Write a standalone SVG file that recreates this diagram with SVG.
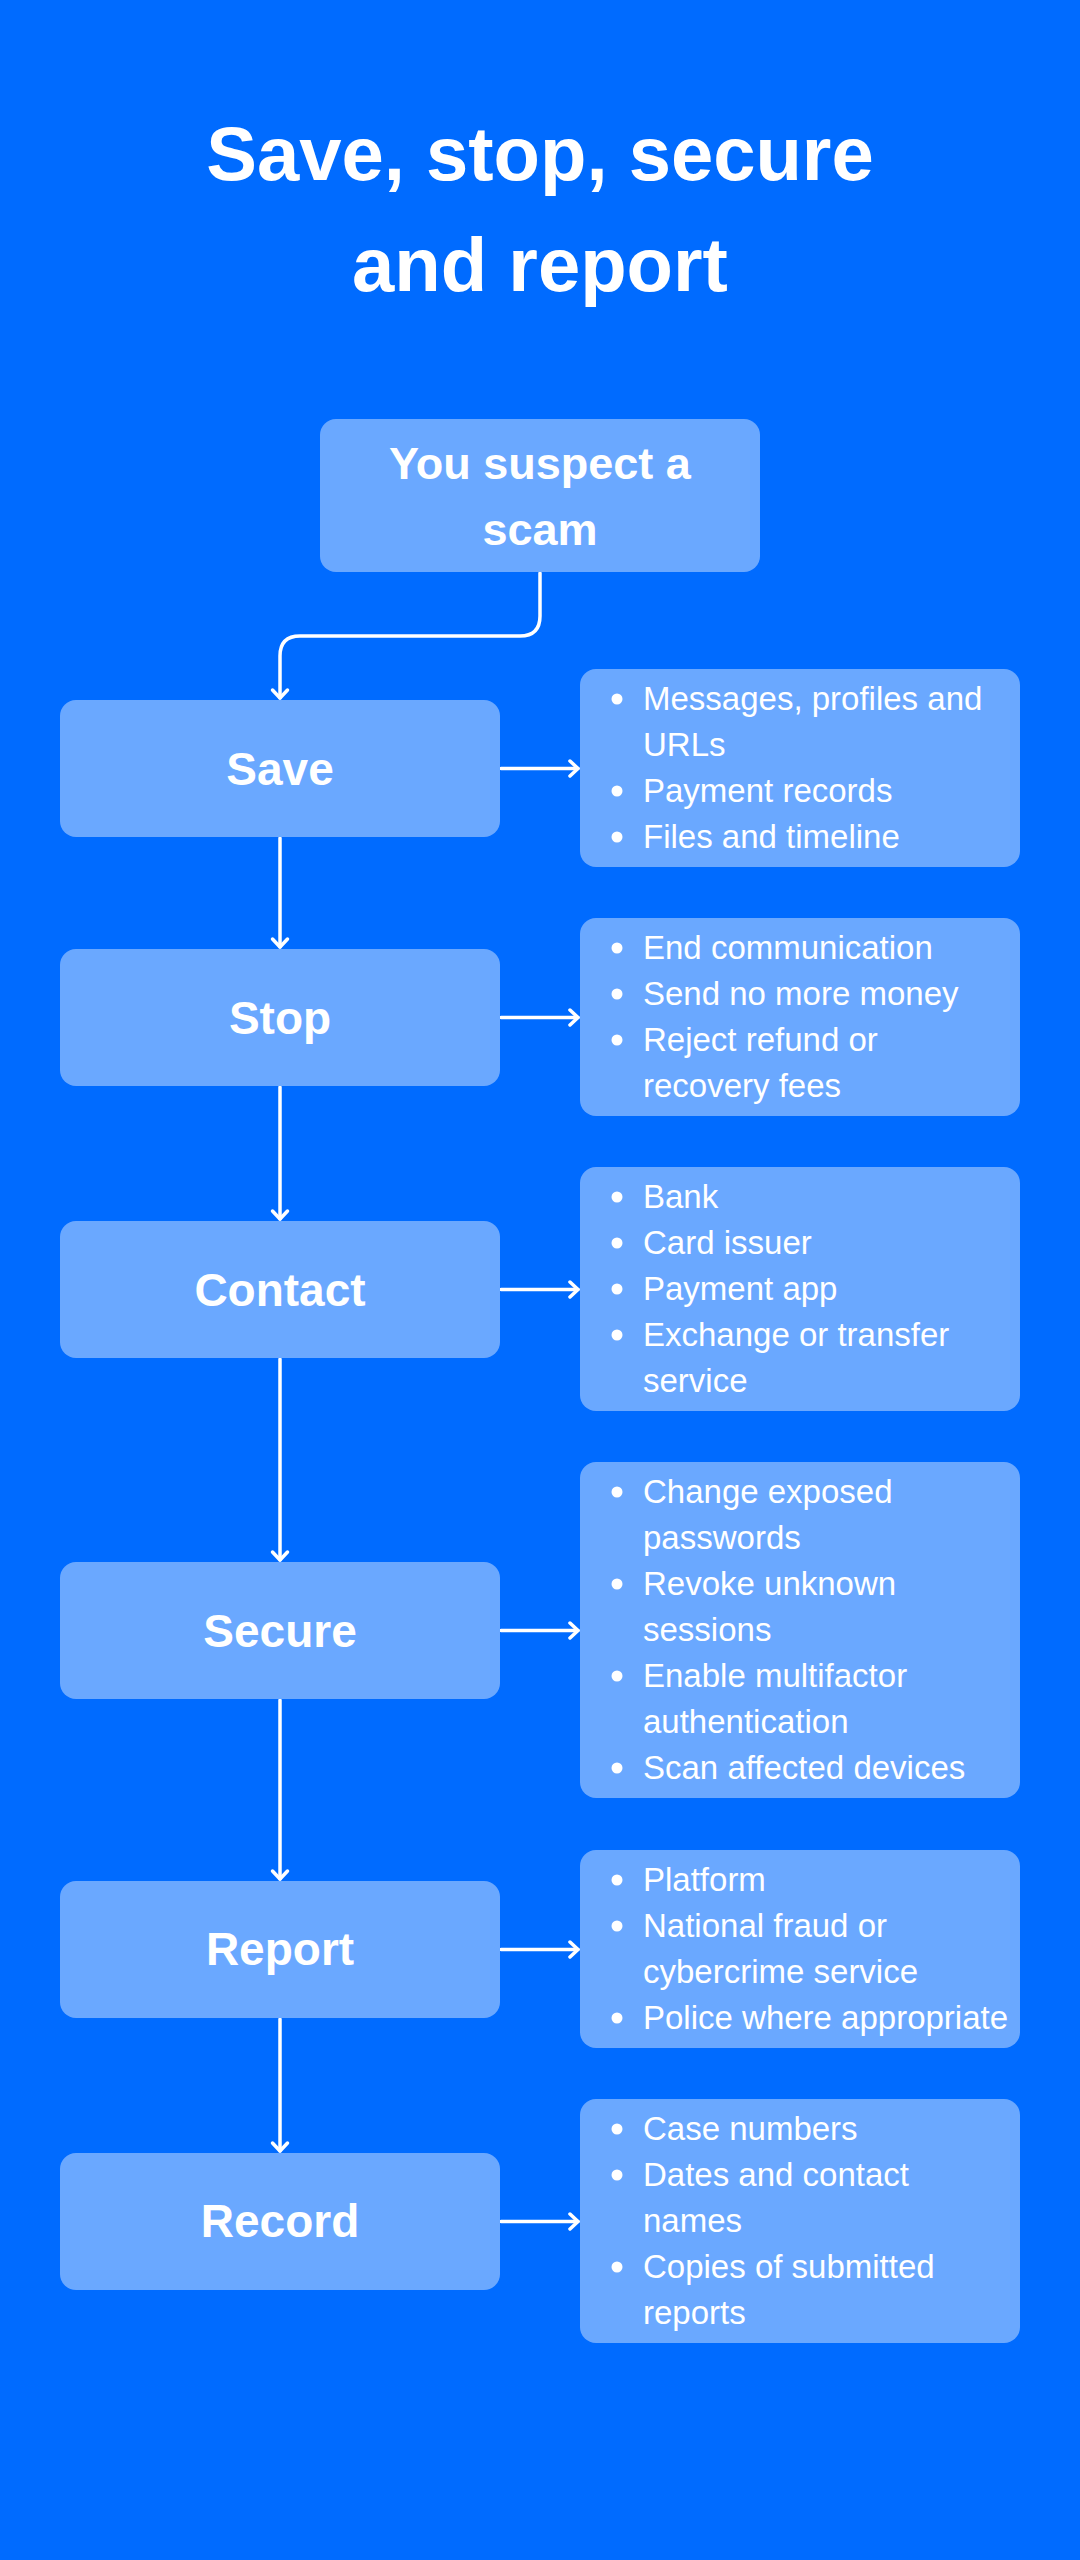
<svg xmlns="http://www.w3.org/2000/svg" width="1080" height="2560" viewBox="0 0 1080 2560">
<style>
.bg{fill:#006BFF}
.box{fill:#6AA8FF}
.title{font-family:"Liberation Sans",Arial,sans-serif;font-weight:700;font-size:76px;fill:#fff;text-anchor:middle}
.lbl{font-family:"Liberation Sans",Arial,sans-serif;font-weight:700;font-size:46px;fill:#fff;text-anchor:middle}
.item{font-family:"Liberation Sans",Arial,sans-serif;font-size:33px;fill:#fff}
.dot{fill:#fff}
.conn{fill:none;stroke:#fff;stroke-width:3.5;stroke-linecap:round;stroke-linejoin:round}
</style>
<defs>
<marker id="arr" markerUnits="userSpaceOnUse" markerWidth="14" markerHeight="20" viewBox="0 0 14 20" refX="11" refY="10" orient="auto">
<path d="M3,2.5 L11,10 L3,17.5" fill="none" stroke="#fff" stroke-width="3.5" stroke-linecap="round" stroke-linejoin="round"/>
</marker>
</defs>
<rect class="bg" x="0" y="0" width="1080" height="2560"/>
<g id="title">
<text class="title" x="540" y="180">Save, stop, secure</text>
<text class="title" x="540" y="291">and report</text>
</g>
<g id="connectors">
<path class="conn" d="M540,573 V616 Q540,636 520,636 H300 Q280,636 280,656 V698" marker-end="url(#arr)"/>
<path class="conn" d="M280,838 V947" marker-end="url(#arr)"/>
<path class="conn" d="M280,1087 V1219" marker-end="url(#arr)"/>
<path class="conn" d="M280,1359 V1560" marker-end="url(#arr)"/>
<path class="conn" d="M280,1700 V1879" marker-end="url(#arr)"/>
<path class="conn" d="M280,2019 V2151" marker-end="url(#arr)"/>
<path class="conn" d="M501,768.5 H578" marker-end="url(#arr)"/>
<path class="conn" d="M501,1017.5 H578" marker-end="url(#arr)"/>
<path class="conn" d="M501,1289.5 H578" marker-end="url(#arr)"/>
<path class="conn" d="M501,1630.5 H578" marker-end="url(#arr)"/>
<path class="conn" d="M501,1949.5 H578" marker-end="url(#arr)"/>
<path class="conn" d="M501,2221.5 H578" marker-end="url(#arr)"/>
</g>
<g id="start">
<rect class="box" x="320" y="419" width="440" height="153" rx="16"/>
<text class="lbl" x="540" y="479" style="font-size:45px">You suspect a</text>
<text class="lbl" x="540" y="545" style="font-size:45px">scam</text>
</g>
<g id="save">
<rect class="box" x="60" y="700" width="440" height="137" rx="16"/>
<text class="lbl" x="280" y="785">Save</text>
</g>
<g id="save-items">
<rect class="box" x="580" y="669" width="440" height="198" rx="16"/>
<circle class="dot" cx="617" cy="699" r="5.5"/><text class="item" x="643" y="710">Messages, profiles and</text>
<text class="item" x="643" y="756">URLs</text>
<circle class="dot" cx="617" cy="791" r="5.5"/><text class="item" x="643" y="802">Payment records</text>
<circle class="dot" cx="617" cy="837" r="5.5"/><text class="item" x="643" y="848">Files and timeline</text>
</g>
<g id="stop">
<rect class="box" x="60" y="949" width="440" height="137" rx="16"/>
<text class="lbl" x="280" y="1034">Stop</text>
</g>
<g id="stop-items">
<rect class="box" x="580" y="918" width="440" height="198" rx="16"/>
<circle class="dot" cx="617" cy="948" r="5.5"/><text class="item" x="643" y="959">End communication</text>
<circle class="dot" cx="617" cy="994" r="5.5"/><text class="item" x="643" y="1005">Send no more money</text>
<circle class="dot" cx="617" cy="1040" r="5.5"/><text class="item" x="643" y="1051">Reject refund or</text>
<text class="item" x="643" y="1097">recovery fees</text>
</g>
<g id="contact">
<rect class="box" x="60" y="1221" width="440" height="137" rx="16"/>
<text class="lbl" x="280" y="1306">Contact</text>
</g>
<g id="contact-items">
<rect class="box" x="580" y="1167" width="440" height="244" rx="16"/>
<circle class="dot" cx="617" cy="1197" r="5.5"/><text class="item" x="643" y="1208">Bank</text>
<circle class="dot" cx="617" cy="1243" r="5.5"/><text class="item" x="643" y="1254">Card issuer</text>
<circle class="dot" cx="617" cy="1289" r="5.5"/><text class="item" x="643" y="1300">Payment app</text>
<circle class="dot" cx="617" cy="1335" r="5.5"/><text class="item" x="643" y="1346">Exchange or transfer</text>
<text class="item" x="643" y="1392">service</text>
</g>
<g id="secure">
<rect class="box" x="60" y="1562" width="440" height="137" rx="16"/>
<text class="lbl" x="280" y="1647">Secure</text>
</g>
<g id="secure-items">
<rect class="box" x="580" y="1462" width="440" height="336" rx="16"/>
<circle class="dot" cx="617" cy="1492" r="5.5"/><text class="item" x="643" y="1503">Change exposed</text>
<text class="item" x="643" y="1549">passwords</text>
<circle class="dot" cx="617" cy="1584" r="5.5"/><text class="item" x="643" y="1595">Revoke unknown</text>
<text class="item" x="643" y="1641">sessions</text>
<circle class="dot" cx="617" cy="1676" r="5.5"/><text class="item" x="643" y="1687">Enable multifactor</text>
<text class="item" x="643" y="1733">authentication</text>
<circle class="dot" cx="617" cy="1768" r="5.5"/><text class="item" x="643" y="1779">Scan affected devices</text>
</g>
<g id="report">
<rect class="box" x="60" y="1881" width="440" height="137" rx="16"/>
<text class="lbl" x="280" y="1965">Report</text>
</g>
<g id="report-items">
<rect class="box" x="580" y="1850" width="440" height="198" rx="16"/>
<circle class="dot" cx="617" cy="1880" r="5.5"/><text class="item" x="643" y="1891">Platform</text>
<circle class="dot" cx="617" cy="1926" r="5.5"/><text class="item" x="643" y="1937">National fraud or</text>
<text class="item" x="643" y="1983">cybercrime service</text>
<circle class="dot" cx="617" cy="2018" r="5.5"/><text class="item" x="643" y="2029">Police where appropriate</text>
</g>
<g id="record">
<rect class="box" x="60" y="2153" width="440" height="137" rx="16"/>
<text class="lbl" x="280" y="2237">Record</text>
</g>
<g id="record-items">
<rect class="box" x="580" y="2099" width="440" height="244" rx="16"/>
<circle class="dot" cx="617" cy="2129" r="5.5"/><text class="item" x="643" y="2140">Case numbers</text>
<circle class="dot" cx="617" cy="2175" r="5.5"/><text class="item" x="643" y="2186">Dates and contact</text>
<text class="item" x="643" y="2232">names</text>
<circle class="dot" cx="617" cy="2267" r="5.5"/><text class="item" x="643" y="2278">Copies of submitted</text>
<text class="item" x="643" y="2324">reports</text>
</g>
</svg>
